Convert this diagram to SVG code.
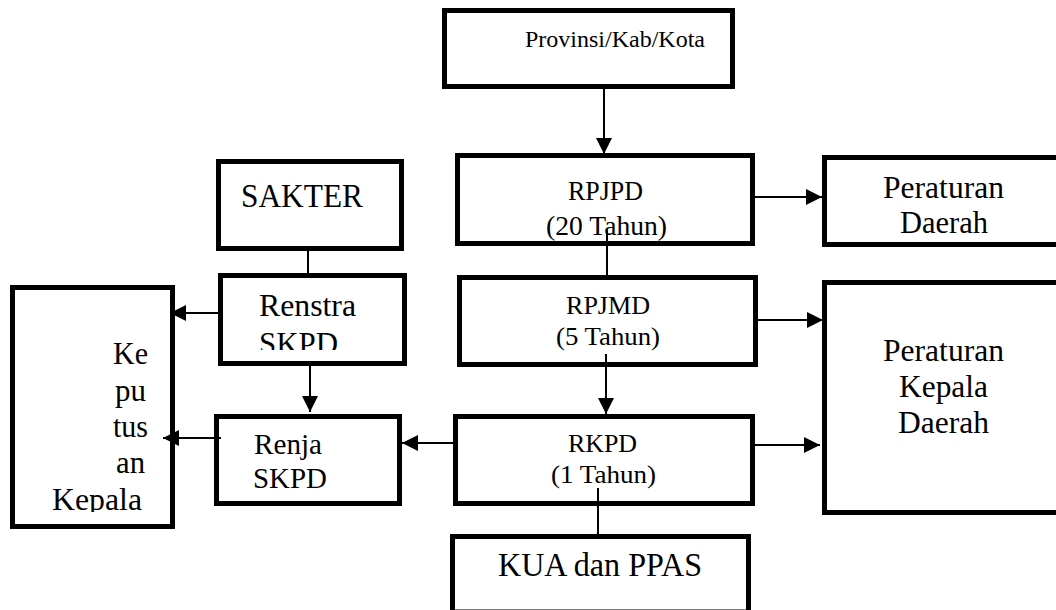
<svg xmlns="http://www.w3.org/2000/svg" width="1056" height="610" viewBox="0 0 1056 610">
<style>
.box{fill:#fff;stroke:#000;stroke-width:5}
.t{fill:#000}
.c{stroke:#000;stroke-width:2;fill:none}
</style>
<defs>
<marker id="ah" markerUnits="userSpaceOnUse" markerWidth="16" markerHeight="16" viewBox="0 0 15 15" refX="15" refY="7.5" orient="auto">
<path d="M0,0 L15,7.5 L0,15 z" fill="#000"/>
</marker>
<clipPath id="clipRenstra"><rect x="223" y="278" width="179" height="72"/></clipPath>
<clipPath id="clipKep"><rect x="15" y="290" width="155" height="222"/></clipPath>
</defs>
<rect width="1056" height="610" fill="#fff"/>
<g font-family="'Liberation Serif', 'Times New Roman', 'DejaVu Serif', serif">
<g id="provinsi">
<rect class="box" x="444.5" y="10.5" width="288" height="76"/>
<text class="t" x="525" y="47" font-size="24" textLength="180" lengthAdjust="spacingAndGlyphs">Provinsi/Kab/Kota</text>
</g>
<g id="rpjpd">
<rect class="box" x="457.5" y="155.5" width="295" height="88"/>
<text class="t" x="568" y="200" font-size="27" textLength="75" lengthAdjust="spacingAndGlyphs">RPJPD</text>
<text class="t" x="546" y="235" font-size="27" textLength="121" lengthAdjust="spacingAndGlyphs">(20 Tahun)</text>
</g>
<g id="rpjmd">
<rect class="box" x="459.5" y="277.5" width="296" height="87"/>
<text class="t" x="566" y="314" font-size="26" textLength="84" lengthAdjust="spacingAndGlyphs">RPJMD</text>
<text class="t" x="556" y="345" font-size="26" textLength="104" lengthAdjust="spacingAndGlyphs">(5 Tahun)</text>
</g>
<g id="rkpd">
<rect class="box" x="455.5" y="416.5" width="297" height="87"/>
<text class="t" x="568" y="452" font-size="26" textLength="69" lengthAdjust="spacingAndGlyphs">RKPD</text>
<text class="t" x="551" y="483" font-size="26" textLength="105" lengthAdjust="spacingAndGlyphs">(1 Tahun)</text>
</g>
<g id="kua">
<rect class="box" x="452.5" y="536.5" width="296" height="75.5"/>
<text class="t" x="498" y="576" font-size="34" textLength="204" lengthAdjust="spacingAndGlyphs">KUA dan PPAS</text>
</g>
<g id="sakter">
<rect class="box" x="218.5" y="161.5" width="183" height="87"/>
<text class="t" x="241" y="207" font-size="33" textLength="122" lengthAdjust="spacingAndGlyphs">SAKTER</text>
</g>
<g id="renstra">
<rect class="box" x="220.5" y="275.5" width="184" height="88"/>
<g clip-path="url(#clipRenstra)">
<text class="t" x="259" y="316" font-size="31" textLength="97" lengthAdjust="spacingAndGlyphs">Renstra</text>
<text class="t" x="259" y="354" font-size="31" textLength="79" lengthAdjust="spacingAndGlyphs">SKPD</text>
</g>
</g>
<g id="renja">
<rect class="box" x="216.5" y="416.5" width="183" height="87"/>
<text class="t" x="254" y="454" font-size="29" textLength="68" lengthAdjust="spacingAndGlyphs">Renja</text>
<text class="t" x="253" y="488" font-size="29" textLength="74" lengthAdjust="spacingAndGlyphs">SKPD</text>
</g>
<g id="keputusan">
<rect class="box" x="12.5" y="287.5" width="160" height="239"/>
<g clip-path="url(#clipKep)">
<text class="t" x="113" y="364" font-size="32" textLength="35" lengthAdjust="spacingAndGlyphs">Ke</text>
<text class="t" x="115" y="401" font-size="32" textLength="31" lengthAdjust="spacingAndGlyphs">pu</text>
<text class="t" x="113" y="437" font-size="32" textLength="35" lengthAdjust="spacingAndGlyphs">tus</text>
<text class="t" x="116" y="473" font-size="32" textLength="29" lengthAdjust="spacingAndGlyphs">an</text>
<text class="t" x="52" y="510" font-size="32" textLength="90" lengthAdjust="spacingAndGlyphs">Kepala</text>
</g>
</g>
<g id="perda">
<rect class="box" x="824.5" y="157.5" width="240" height="87"/>
<text class="t" x="883" y="198" font-size="31" textLength="121" lengthAdjust="spacingAndGlyphs">Peraturan</text>
<text class="t" x="900" y="233" font-size="31" textLength="88" lengthAdjust="spacingAndGlyphs">Daerah</text>
</g>
<g id="perkada">
<rect class="box" x="824.5" y="282.5" width="240" height="230"/>
<text class="t" x="883" y="361" font-size="31" textLength="121" lengthAdjust="spacingAndGlyphs">Peraturan</text>
<text class="t" x="899" y="397" font-size="31" textLength="89" lengthAdjust="spacingAndGlyphs">Kepala</text>
<text class="t" x="898" y="433" font-size="31" textLength="91" lengthAdjust="spacingAndGlyphs">Daerah</text>
</g>
</g>
<g id="connectors">
<line class="c" x1="604" y1="89" x2="604" y2="154" marker-end="url(#ah)"/>
<line class="c" x1="607" y1="230" x2="607" y2="277"/>
<line class="c" x1="606" y1="354" x2="606" y2="414" marker-end="url(#ah)"/>
<line class="c" x1="598" y1="488" x2="598" y2="536"/>
<line class="c" x1="755" y1="197" x2="822" y2="197" marker-end="url(#ah)"/>
<line class="c" x1="758" y1="320" x2="823" y2="320" marker-end="url(#ah)"/>
<line class="c" x1="755" y1="445" x2="820" y2="445" marker-end="url(#ah)"/>
<line class="c" x1="455" y1="443" x2="402" y2="443" marker-end="url(#ah)"/>
<line class="c" x1="308" y1="251" x2="308" y2="275"/>
<line class="c" x1="310" y1="366" x2="310" y2="412" marker-end="url(#ah)"/>
<line class="c" x1="219" y1="313" x2="170" y2="313" marker-end="url(#ah)"/>
<line class="c" x1="221" y1="438" x2="163" y2="438" marker-end="url(#ah)"/>
</g>
</svg>
